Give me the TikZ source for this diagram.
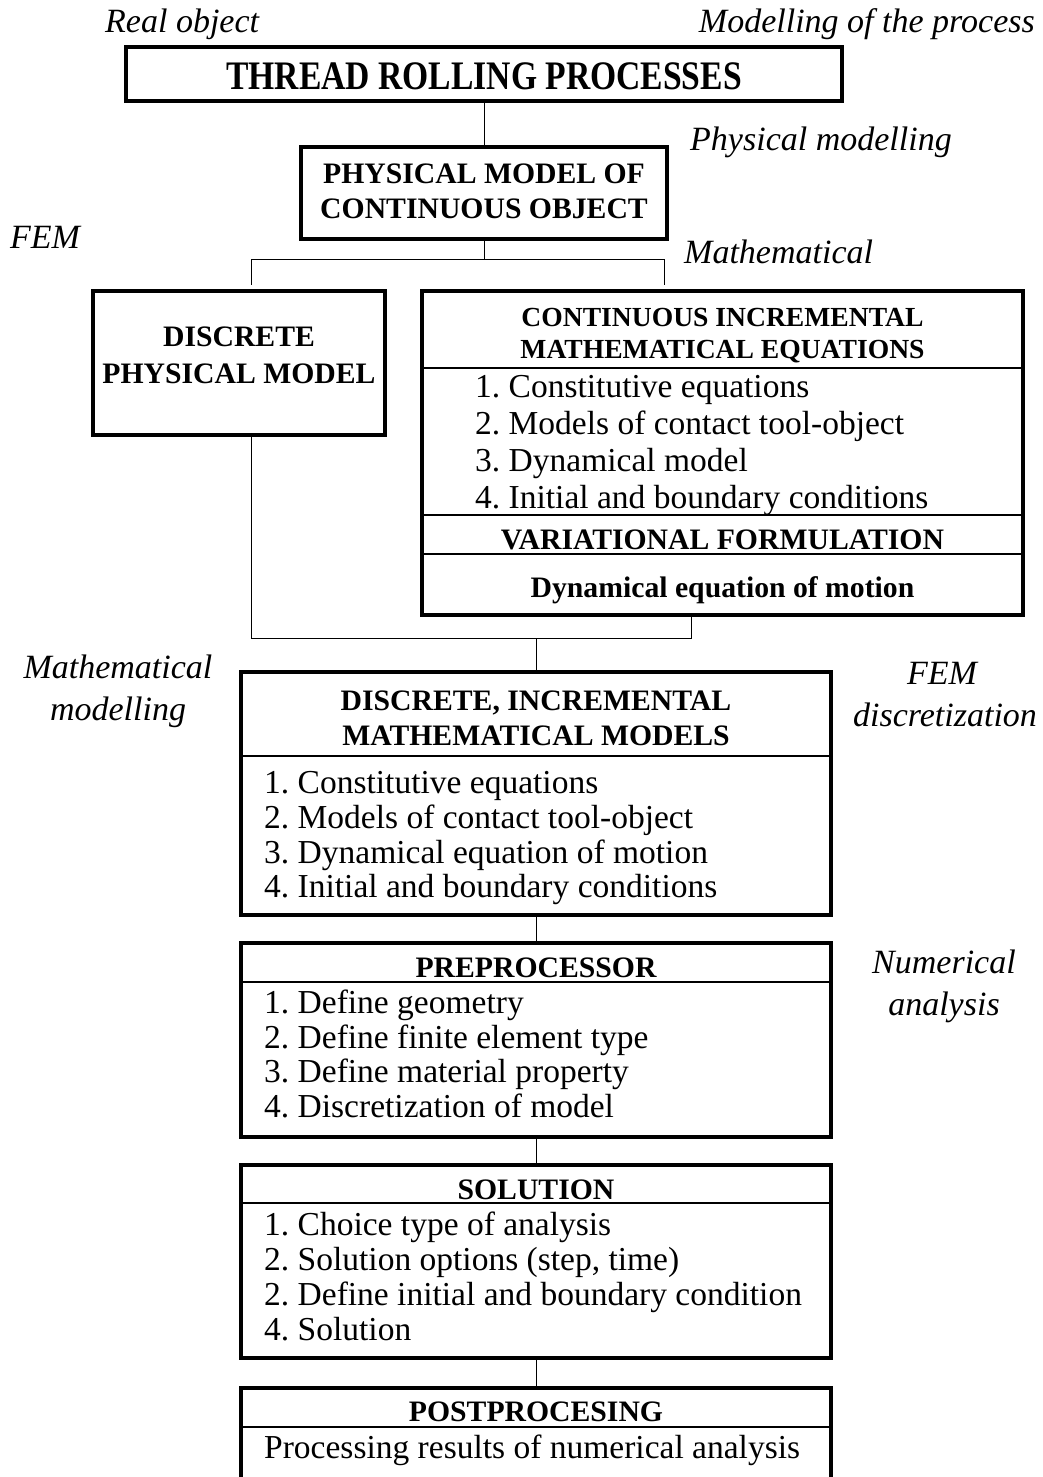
\documentclass[tikz,border=0pt]{standalone}
\usepackage{fontspec}
\setmainfont{Liberation Serif}
\newfontfamily\titlefont{Liberation Serif}[FakeStretch=0.83]
\frenchspacing

\tikzset{
  box/.style={draw, rectangle, line width=3.5pt, inner sep=0pt, outer sep=0pt},
  link/.style={line width=1pt},
  rule/.style={line width=2pt},
  hd/.style={font=\fontsize{29.7}{35}\selectfont\bfseries, anchor=base, inner sep=0pt},
  hdsmall/.style={font=\fontsize{27.6}{33}\selectfont\bfseries, anchor=base, inner sep=0pt},
  item/.style={font=\fontsize{33.5}{38}\selectfont, anchor=base west, inner sep=0pt},
  lbl/.style={font=\fontsize{34}{40}\selectfont\itshape, inner sep=0pt},
}

\begin{document}
\frenchspacing
\begin{tikzpicture}[x=1pt, y=-1pt]
\useasboundingbox (0,0) rectangle (1042,1477);

% frames
\node[box, minimum width=716pt, minimum height=54pt]  (title) at (484,74) {};
\node[box, minimum width=366pt, minimum height=92pt]  (phys)  at (484,193) {};
\node[box, minimum width=292pt, minimum height=144pt] (disc)  at (239,363) {};
\node[box, minimum width=601pt, minimum height=324pt] (cont)  at (722.5,453) {};
\node[box, minimum width=590pt, minimum height=243pt] (dmod)  at (536,793.5) {};
\node[box, minimum width=590pt, minimum height=194pt] (pre)   at (536,1040) {};
\node[box, minimum width=590pt, minimum height=193pt] (sol)   at (536,1261.5) {};
\node[box, minimum width=590pt, minimum height=97pt]  (post)  at (536,1436.5) {};

% inner rules
\draw[rule] (cont.west |- 0,368) -- (cont.east |- 0,368);
\draw[rule] (cont.west |- 0,515) -- (cont.east |- 0,515);
\draw[rule] (cont.west |- 0,554) -- (cont.east |- 0,554);
\draw[rule] (dmod.west |- 0,756) -- (dmod.east |- 0,756);
\draw[rule] (pre.west |- 0,982) -- (pre.east |- 0,982);
\draw[rule] (sol.west |- 0,1203) -- (sol.east |- 0,1203);
\draw[rule] (post.west |- 0,1427) -- (post.east |- 0,1427);

% connectors
\coordinate (bl) at (251,259);
\coordinate (br) at (664,259);
\coordinate (jl) at (251,638);
\coordinate (jr) at (691,638);
\draw[link] (title.south) -- (phys.north);
\draw[link] (phys.south) -- (phys.south |- bl);
\draw[link] (bl) -- (br);
\draw[link, shorten >=6pt] (bl) -- (bl |- disc.north);
\draw[link, shorten >=6pt] (br) -- (br |- cont.north);
\draw[link] (disc.south -| jl) -- (jl) -- (jr) -- (cont.south -| jr);
\draw[link] (dmod.north |- jl) -- (dmod.north);
\draw[link] (dmod.south) -- (pre.north);
\draw[link] (pre.south) -- (sol.north);
\draw[link] (sol.south) -- (post.north);

% titles inside frames
\node[font=\titlefont\fontsize{40.5}{44}\selectfont\bfseries, anchor=base, inner sep=0pt]
  (ttl) at (484,90) {THREAD ROLLING PROCESSES};
\node[hd] (ph1) at (484,183) {PHYSICAL MODEL OF};
\node[hd] (ph2) at (484,218) {CONTINUOUS OBJECT};
\node[hd] (dc1) at (239,346) {DISCRETE};
\node[hd] (dc2) at (239,383) {PHYSICAL MODEL};
\node[hdsmall] (ct1) at (722.5,326) {CONTINUOUS INCREMENTAL};
\node[hdsmall] (ct2) at (722.5,358) {MATHEMATICAL EQUATIONS};
\node[hd] (var) at (722.5,549) {VARIATIONAL FORMULATION};
\node[hd] (dyn) at (722.5,597) {Dynamical equation of motion};
\node[hd] (dm1) at (536,710) {DISCRETE, INCREMENTAL};
\node[hd] (dm2) at (536,745) {MATHEMATICAL MODELS};
\node[hd] (prh) at (536,977) {PREPROCESSOR};
\node[hd] (soh) at (536,1199) {SOLUTION};
\node[hd] (poh) at (536,1421) {POSTPROCESING};

% lists
\node[item] (c1) at (475,397) {1. Constitutive equations};
\node[item] (c2) at (475,434) {2. Models of contact tool-object};
\node[item] (c3) at (475,471) {3. Dynamical model};
\node[item] (c4) at (475,508) {4. Initial and boundary conditions};

\node[item] (d1) at (264,793) {1. Constitutive equations};
\node[item] (d2) at (264,828) {2. Models of contact tool-object};
\node[item] (d3) at (264,863) {3. Dynamical equation of motion};
\node[item] (d4) at (264,897) {4. Initial and boundary conditions};

\node[item] (p1) at (264,1013) {1. Define geometry};
\node[item] (p2) at (264,1048) {2. Define finite element type};
\node[item] (p3) at (264,1082) {3. Define material property};
\node[item] (p4) at (264,1117) {4. Discretization of model};

\node[item] (s1) at (264,1235) {1. Choice type of analysis};
\node[item] (s2) at (264,1270) {2. Solution options (step, time)};
\node[item] (s3) at (264,1305) {2. Define initial and boundary condition};
\node[item] (s4) at (264,1340) {4. Solution};

\node[item] (r1) at (264,1458) {Processing results of numerical analysis};

% side labels
\node[lbl, anchor=base west] (real)  at (105,33) {Real object};
\node[lbl, anchor=base east] (mproc) at (1035,33) {Modelling of the process};
\node[lbl, anchor=base west] (physm) at (690,150) {Physical modelling};
\node[lbl, anchor=base west] (fem)   at (10,248) {FEM};
\node[lbl, anchor=base west] (math)  at (684,263) {Mathematical};
\node[lbl, anchor=base] (mm1) at (118,678) {Mathematical};
\node[lbl, anchor=base] (mm2) at (118,720) {modelling};
\node[lbl, anchor=base] (fd1) at (942,684) {FEM};
\node[lbl, anchor=base] (fd2) at (945,726) {discretization};
\node[lbl, anchor=base] (na1) at (944,973) {Numerical};
\node[lbl, anchor=base] (na2) at (944,1015) {analysis};
\end{tikzpicture}
\end{document}
